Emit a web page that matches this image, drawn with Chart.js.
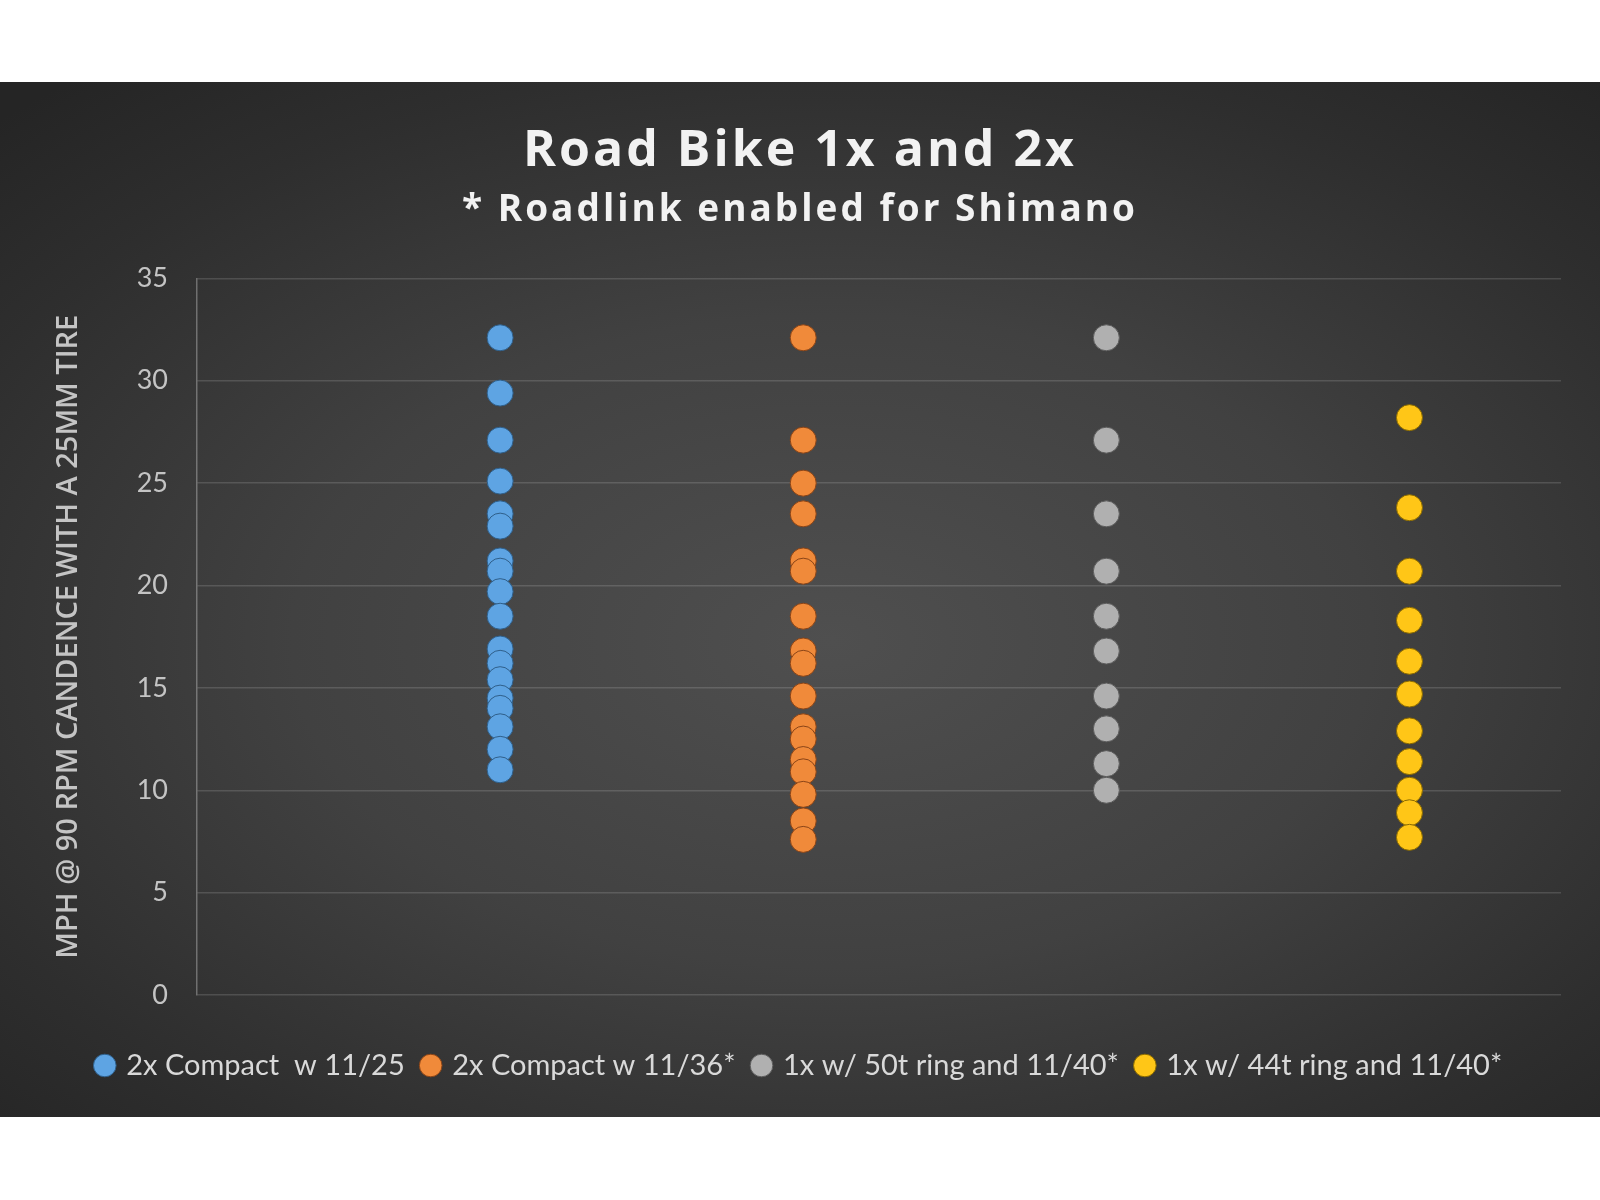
<!DOCTYPE html>
<html>
<head>
<meta charset="utf-8">
<title>Road Bike 1x and 2x</title>
<script src="https://cdn.jsdelivr.net/npm/chart.js@4.4.1/dist/chart.umd.min.js"></script>
<style>
  html, body { margin: 0; padding: 0; background: #ffffff; }
  #panel {
    position: absolute;
    left: 0;
    top: 82px;
    width: 1600px;
    height: 1035px;
    background: radial-gradient(ellipse 75% 70% at 52% 54%, #4f4f4f 0%, #414141 45%, #2e2e2e 80%, #252525 100%);
  }
</style>
</head>
<body>
<div id="panel"><canvas id="gearChart" width="1600" height="1035"></canvas></div>
<script>
// Road bike gearing: speed at 90 rpm, 25mm tire
const categories = [
  "2x Compact  w 11/25",
  "2x Compact w 11/36*",
  "1x w/ 50t ring and 11/40*",
  "1x w/ 44t ring and 11/40*",
];
const compact1125 = [32.1, 29.4, 27.1, 25.1, 23.5, 22.9, 21.2, 20.7, 19.7, 18.5, 16.9, 16.2, 15.4, 14.5, 14.0, 13.1, 12.0, 11.0];
const compact1136 = [32.1, 27.1, 25.0, 23.5, 21.2, 20.7, 18.5, 16.8, 16.2, 14.6, 13.1, 12.5, 11.5, 10.9, 9.8, 8.5, 7.6];
const oneX50 = [32.1, 27.1, 23.5, 20.7, 18.5, 16.8, 14.6, 13.0, 11.3, 10.0];
const oneX44 = [28.2, 23.8, 20.7, 18.3, 16.3, 14.7, 12.9, 11.4, 10.0, 8.9, 7.7];
const yTicks = [0, 5, 10, 15, 20, 25, 30, 35];

const seriesValues = [compact1125, compact1136, oneX50, oneX44];
const fills = ["#5ea4e3", "#f08a3a", "#b0b0b0", "#ffc617"];
const edges = ["#2f5f8a", "#8a4417", "#5c5c5c", "#8a6a00"];

const titleText = "Road Bike 1x and 2x";
const subtitleText = "* Roadlink enabled for Shimano";

document.addEventListener("DOMContentLoaded", function () {
  const ctx = document.getElementById("gearChart").getContext("2d");
  const chart = new Chart(ctx, {
    type: "scatter",
    data: {
      datasets: seriesValues.map(function (vals, i) {
        return {
          label: categories[i],
          data: vals.map(function (v) { return { x: i + 1, y: v }; }),
          backgroundColor: fills[i],
          borderColor: edges[i],
          borderWidth: 1,
          pointRadius: 13,
          pointHoverRadius: 13,
        };
      }),
    },
    options: {
      responsive: false,
      animation: false,
      layout: { padding: { left: 39, right: 39, top: 0, bottom: 27 } },
      plugins: {
        title: {
          display: true,
          text: titleText,
          color: "#f2f2f2",
          font: { family: "Open Sans", size: 50, weight: "bold" },
          padding: { top: 40, bottom: 0 },
        },
        subtitle: {
          display: true,
          text: subtitleText,
          color: "#f2f2f2",
          font: { family: "Open Sans", size: 37, weight: "bold" },
          padding: { top: 6, bottom: 46 },
        },
        legend: {
          position: "bottom",
          labels: {
            color: "#d9d9d9",
            font: { family: "Lato", size: 29 },
            usePointStyle: true,
            pointStyle: "circle",
            boxWidth: 14,
            boxHeight: 16,
            padding: 19,
          },
        },
        tooltip: { enabled: false },
      },
      scales: {
        x: {
          type: "linear",
          min: 0,
          max: 4.5,
          grid: { display: false },
          border: { display: false },
          ticks: { display: false },
          afterFit: function (scale) { scale.height = 37; },
        },
        y: {
          min: 0,
          max: 35,
          afterBuildTicks: function (scale) {
            scale.ticks = yTicks.map(function (v) { return { value: v }; });
          },
          grid: { color: "rgba(255,255,255,0.14)", lineWidth: 1.5, drawTicks: false },
          border: { display: true, color: "rgba(255,255,255,0.3)", width: 1.5 },
          ticks: {
            color: "#c4c4c4",
            font: { family: "Lato", size: 27 },
            padding: 29,
          },
          title: {
            display: true,
            text: "MPH @ 90 RPM CANDENCE WITH A 25MM TIRE",
            color: "#c4c4c4",
            font: { family: "Open Sans", size: 29, weight: "600" },
            padding: { top: 12, bottom: 0 },
          },
          afterFit: function (scale) { scale.width = 158; },
        },
      },
    },
  });

  // spread the letters of the two headings a little, like the original
  chart.boxes.forEach(function (box) {
    const txt = box.options && box.options.text;
    if (txt === titleText || txt === subtitleText) {
      const orig = box.draw;
      box.draw = function (area) {
        const c = this.ctx;
        c.save();
        c.letterSpacing = "3px";
        orig.call(this, area);
        c.restore();
      };
    }
  });
  chart.draw();
});
</script>
</body>
</html>
